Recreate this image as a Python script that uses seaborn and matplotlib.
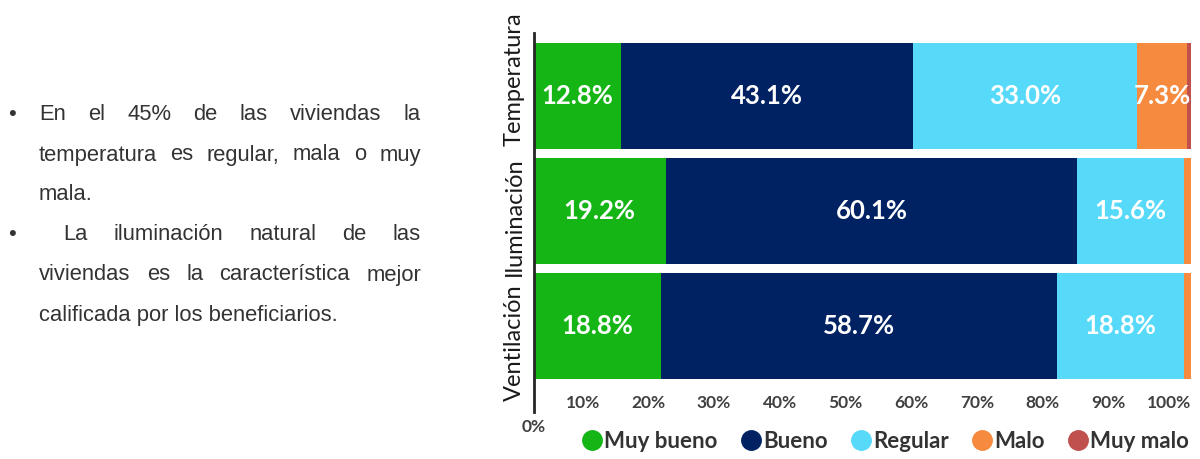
import numpy as np
import matplotlib
matplotlib.use("Agg")
import matplotlib.pyplot as plt
from matplotlib.lines import Line2D
import seaborn as sns

# --- data ---
categories = ["Temperatura", "Iluminación", "Ventilación"]
ratings = ["Muy bueno", "Bueno", "Regular", "Malo", "Muy malo"]
muy_bueno = [12.8, 19.2, 18.8]
bueno = [43.1, 60.1, 58.7]
regular = [33.0, 15.6, 18.8]
malo = [7.3, 1.0, 1.0]
muy_malo = [0.6, 0.0, 0.0]
x_ticks = [10, 20, 30, 40, 50, 60, 70, 80, 90, 100]

colors = ["#16B516", "#002263", "#57D9F9", "#F68A3E", "#C0504D"]

bullet_lines = [
    ("En el 45% de las viviendas la", True, True),
    ("temperatura es regular, mala o muy", True, False),
    ("mala.", False, False),
    ("La iluminación natural de las", True, True),
    ("viviendas es la característica mejor", True, False),
    ("calificada por los beneficiarios.", False, False),
]

sns.set_theme(style="white")
plt.rcParams["font.family"] = ["Lato", "DejaVu Sans"]

W, H = 1200, 459
fig = plt.figure(figsize=(W / 100, H / 100), dpi=100)
ax = fig.add_axes([534 / W, 1 - 412 / H, (1191 - 534) / W, (412 - 33) / H])

# --- stacked bars, normalised per row ---
values = np.array([muy_bueno, bueno, regular, malo, muy_malo])
shares = values / values.sum(axis=0) * 100
cum = np.cumsum(shares, axis=0)

for k in reversed(range(len(ratings))):
    sns.barplot(x=cum[k], y=categories, orient="h", color=colors[k],
                saturation=1, width=0.92, linewidth=0, ax=ax)

for i in range(len(categories)):
    for k in range(len(ratings)):
        if values[k, i] > 5:
            left = cum[k, i] - shares[k, i]
            ax.text(left + shares[k, i] / 2, i, f"{values[k, i]:.1f}%",
                    ha="center", va="center", color="white",
                    fontsize=18.5, fontweight="bold")

ax.set_xlim(0, 100)
ax.set_ylim(2.75, -0.55)
ax.set_xlabel("")
ax.set_ylabel("")

ax.set_xticks(x_ticks, labels=[f"{t}%" for t in x_ticks])
ax.set_xticks([0], labels=["0%"], minor=True)
ax.tick_params(axis="x", which="major", length=0, pad=-12, labelsize=12.5,
               labelcolor="#404040")
ax.tick_params(axis="x", which="minor", length=0, pad=5, labelsize=12.5,
               labelcolor="#404040")
for lab in ax.get_xticklabels():
    lab.set_ha("right")
    lab.set_fontweight("bold")
for lab in ax.get_xticklabels(minor=True):
    lab.set_fontweight("bold")

# category names, spread a little like the original slide
ax.set_yticks(range(len(categories)), labels=[])
ax.tick_params(axis="y", length=0)
label_shift = [17, -6, -17]  # pixels, upward
for i, (cat, dy) in enumerate(zip(categories, label_shift)):
    ax.annotate(cat, xy=(0, i), xycoords=("axes fraction", "data"),
                xytext=(-20, dy), textcoords="offset pixels", rotation=90,
                ha="center", va="center", fontsize=17, color="#1a1a1a")

for s in ["top", "right", "bottom"]:
    ax.spines[s].set_visible(False)
ax.spines["left"].set_color("#262626")
ax.spines["left"].set_linewidth(2)

handles = [Line2D([], [], marker="o", ls="", markersize=14,
                  markerfacecolor=c, markeredgecolor=c) for c in colors]
fig.legend(handles, ratings, loc="center", bbox_to_anchor=(885 / W, 1 - 441 / H),
           ncol=5, frameon=False, handletextpad=0.05, columnspacing=1.0,
           handlelength=1.0, prop=dict(size=16, weight="bold"),
           labelcolor="#333333")

# --- left-hand bullet text, justified word by word ---
renderer = fig.canvas.get_renderer()
txt_kw = dict(family="Liberation Sans", fontsize=15.8, color="#333333",
              va="center", transform=fig.transFigure)
x_right = 421
y = 115
for line, justify, bullet in bullet_lines:
    x0 = 63 if line.startswith("La ") else 39
    if bullet:
        fig.text(12 / W, 1 - y / H, "•", ha="center", **txt_kw)
    if justify:
        words = line.split()
        objs = [fig.text(0, 1 - y / H, w, **txt_kw) for w in words]
        widths = [o.get_window_extent(renderer).width for o in objs]
        gap = (x_right - x0 - sum(widths)) / (len(words) - 1)
        x = x0
        for o, w in zip(objs, widths):
            o.set_x(x / W)
            x += w + gap
    else:
        fig.text(x0 / W, 1 - y / H, line, **txt_kw)
    y += 40

fig.savefig("out.png", dpi=100)
